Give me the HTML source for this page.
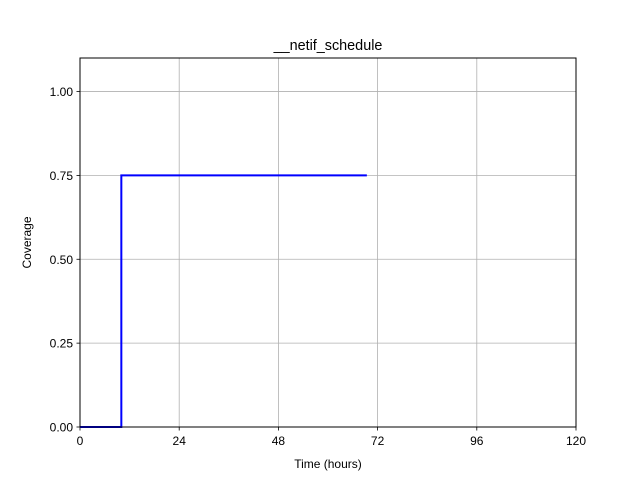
<!DOCTYPE html>
<html><head><meta charset="utf-8"><style>body{margin:0;background:#fff}svg{display:block;font-family:"Liberation Sans","DejaVu Sans",sans-serif}</style></head>
<body>
<svg id="chart" width="640" height="480">
<rect width="640" height="480" fill="#fff"/>
<g id="grid"></g>
<g id="ticks"></g>
<path id="line" fill="none" stroke="#0000ff" stroke-width="2"/>
<rect x="80" y="58" width="496" height="369" fill="none" stroke="#000" stroke-width="1"/>
<text x="328" y="50" text-anchor="middle" font-size="14.4">__netif_schedule</text>
<text x="328" y="468" text-anchor="middle" font-size="12">Time (hours)</text>
<text transform="translate(31,242.5) rotate(-90)" text-anchor="middle" font-size="12">Coverage</text>
</svg>
<script>
const xTicks=[0,24,48,72,96,120];
const yTicks=[0,0.25,0.5,0.75,1.0];
const yTickLabels=["0.00","0.25","0.50","0.75","1.00"];
const times=[0,10,10,69.4];
const coverage=[0,0,0.75,0.75];
const X=v=>80+v/120*496, Y=v=>427-v/1.1*369;
const ns="http://www.w3.org/2000/svg";
const grid=document.getElementById('grid'), ticks=document.getElementById('ticks');
function mk(tag,attrs,parent){const e=document.createElementNS(ns,tag);for(const k in attrs)e.setAttribute(k,attrs[k]);parent.appendChild(e);return e;}
xTicks.forEach(t=>{
 const g=mk('line',{x1:X(t),x2:X(t),y1:58,y2:427,stroke:'#b0b0b0','stroke-width':0.8},grid);
 
 
 const tk=mk('line',{x1:X(t),x2:X(t),y1:427,y2:430.5,stroke:'#000','stroke-width':0.8},ticks);
 
 
 const tx=mk('text',{x:X(t),y:445,'text-anchor':'middle','font-size':12},ticks);
 tx.textContent=t;
 
 
});
yTicks.forEach((t,i)=>{
 const g=mk('line',{x1:80,x2:576,y1:Y(t),y2:Y(t),stroke:'#b0b0b0','stroke-width':0.8},grid);
 
 
 const tk=mk('line',{x1:76.5,x2:80,y1:Y(t),y2:Y(t),stroke:'#000','stroke-width':0.8},ticks);
 
 
 const tx=mk('text',{x:73,y:Y(t)+4.5,'text-anchor':'end','font-size':12},ticks);
 tx.textContent=yTickLabels[i];
 
 
});
document.getElementById('line').setAttribute('d',times.map((t,i)=>(i?'L':'M')+X(t)+','+Y(coverage[i])).join(' '));
</script>
</body></html>
